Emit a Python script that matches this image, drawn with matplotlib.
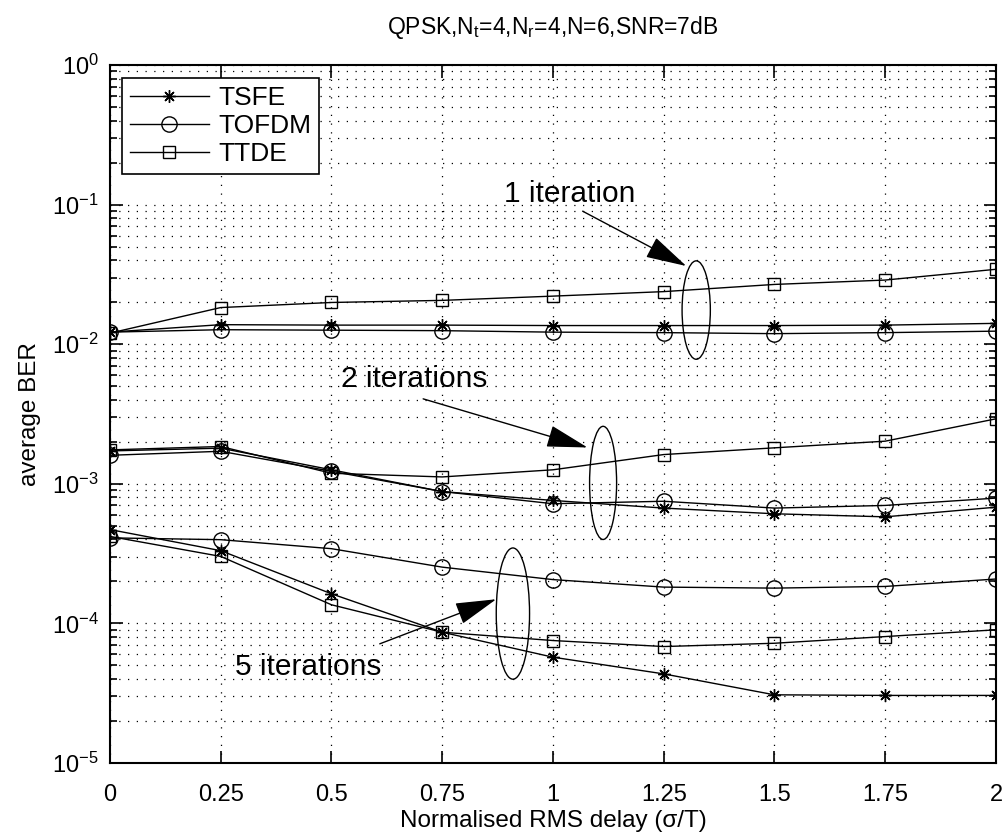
import numpy as np
import matplotlib
matplotlib.use('Agg')
import matplotlib.pyplot as plt
from matplotlib.patches import Ellipse
from matplotlib.ticker import LogLocator, NullFormatter

plt.rcParams['font.family'] = ['Liberation Sans', 'DejaVu Sans']
plt.rcParams['mathtext.fontset'] = 'custom'
plt.rcParams['mathtext.rm'] = 'Liberation Sans'
plt.rcParams['mathtext.it'] = 'Liberation Sans:italic'
plt.rcParams['mathtext.bf'] = 'Liberation Sans:bold'

# normalised RMS delay
delay = [0, 0.25, 0.5, 0.75, 1.0, 1.25, 1.5, 1.75, 2.0]
xtick_labels = ['0', '0.25', '0.5', '0.75', '1', '1.25', '1.5', '1.75', '2']

# average BER after 1 iteration
tsfe_1 = [0.0122, 0.0138, 0.0137, 0.0137, 0.0136, 0.0136, 0.0136, 0.0137, 0.0141]
tofdm_1 = [0.0122, 0.0127, 0.0126, 0.0125, 0.0122, 0.0121, 0.0119, 0.0121, 0.0124]
ttde_1 = [0.0120, 0.0183, 0.0199, 0.0206, 0.0221, 0.0238, 0.0268, 0.0288, 0.0344]

# average BER after 2 iterations
tsfe_2 = [0.00172, 0.00180, 0.00126, 0.00088, 0.00076, 0.00067, 0.00061, 0.00058, 0.00068]
tofdm_2 = [0.00160, 0.00171, 0.00123, 0.00088, 0.00072, 0.00075, 0.00067, 0.00070, 0.00079]
ttde_2 = [0.00175, 0.00185, 0.00119, 0.00112, 0.00126, 0.00162, 0.00181, 0.00202, 0.00292]

# average BER after 5 iterations
tsfe_5 = [0.00047, 0.000332, 0.000163, 0.0000865, 0.0000573, 0.0000435, 0.0000308, 0.0000305, 0.0000305]
tofdm_5 = [0.00041, 0.000398, 0.000343, 0.000253, 0.000206, 0.000182, 0.000179, 0.000184, 0.000208]
ttde_5 = [0.00042, 0.000302, 0.000136, 0.0000865, 0.0000754, 0.0000683, 0.0000721, 0.0000805, 0.000090]

fig = plt.figure(figsize=(10.06, 8.32), dpi=100)
ax = fig.add_axes([0.1093, 0.0829, 0.8807, 0.8390])

star = (8, 2, 0)
line_kw = dict(color='k', lw=1.0)
for s, lab in [(tsfe_1, 'TSFE'), (tsfe_2, None), (tsfe_5, None)]:
    ax.semilogy(delay, s, marker=star, ms=9, mew=1.0, label=lab, **line_kw)
for s, lab in [(tofdm_1, 'TOFDM'), (tofdm_2, None), (tofdm_5, None)]:
    ax.semilogy(delay, s, marker='o', ms=11, mfc='none', mew=1.0, label=lab, **line_kw)
for s, lab in [(ttde_1, 'TTDE'), (ttde_2, None), (ttde_5, None)]:
    ax.semilogy(delay, s, marker='s', ms=9, mfc='none', mew=1.0, label=lab, **line_kw)

ax.set_xlim(0, 2)
ax.set_ylim(1e-5, 1)
ax.set_xticks(delay)
ax.set_xticklabels(xtick_labels)
ax.yaxis.set_major_locator(LogLocator(base=10, numticks=10))
ax.yaxis.set_minor_locator(LogLocator(base=10, subs=np.arange(2, 10), numticks=20))
ax.yaxis.set_minor_formatter(NullFormatter())

ax.grid(True, which='major', ls=(0, (1, 6)), color='k', lw=0.9)
ax.grid(True, which='minor', axis='y', ls=(0, (1, 6)), color='k', lw=0.9)
ax.tick_params(which='both', direction='in', top=True, right=True, labelsize=17, width=1.2)
ax.tick_params(which='major', length=9)
ax.tick_params(which='minor', length=5)
ax.tick_params(axis='x', pad=15)
ax.tick_params(axis='y', pad=8)
for sp in ax.spines.values():
    sp.set_linewidth(1.5)

ax.set_title('QPSK,N$_\\mathrm{t}$=4,N$_\\mathrm{r}$=4,N=6,SNR=7dB', fontsize=16.5, pad=22)
ax.set_xlabel('Normalised RMS delay (σ/T)', fontsize=17.5, labelpad=3)
ax.set_ylabel('average BER', fontsize=17.5, labelpad=8)

leg = ax.legend(loc='upper left', bbox_to_anchor=(0.0135, 0.981), borderaxespad=0,
                fontsize=19, handlelength=3.0, handletextpad=0.35, labelspacing=0.15,
                borderpad=0.3, fancybox=False, framealpha=1, edgecolor='k')
leg.get_frame().set_linewidth(1.2)

# iteration groups: ellipse around each bundle plus a labelled arrow
for cx, cy, w, h in [(0.6617, 0.6489, 0.0319, 0.141),
                     (0.5566, 0.4013, 0.0305, 0.1621),
                     (0.4548, 0.2141, 0.0376, 0.188)]:
    ax.add_patch(Ellipse((cx, cy), w, h, transform=ax.transAxes,
                         fill=False, ec='k', lw=1.0))

arrow_kw = dict(arrowstyle='-|>,head_length=1.3,head_width=0.35', color='k', lw=1.0,
                shrinkA=0, shrinkB=0, mutation_scale=20)
ax.text(1.038, 0.119, '1 iteration', fontsize=21.5, ha='center', va='center')
ax.annotate('', xy=(1.301, 0.0363), xytext=(1.067, 0.0897), arrowprops=arrow_kw)
ax.text(0.686, 0.00559, '2 iterations', fontsize=21.5, ha='center', va='center')
ax.annotate('', xy=(1.078, 0.00182), xytext=(0.707, 0.00406), arrowprops=arrow_kw)
ax.text(0.447, 4.84e-5, '5 iterations', fontsize=21.5, ha='center', va='center')
ax.annotate('', xy=(0.872, 1.49e-4), xytext=(0.609, 7.14e-5), arrowprops=arrow_kw)

fig.savefig('out.png', dpi=100)
